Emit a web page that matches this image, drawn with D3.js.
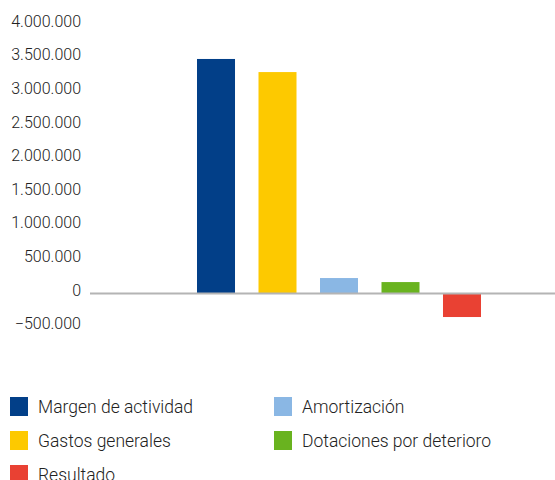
<!DOCTYPE html>
<html>
<head>
<meta charset="utf-8">
<script src="https://cdn.jsdelivr.net/npm/d3@7"></script>
<style>
  body { margin: 0; background: #fff; }
  text { font-family: Roboto, "Open Sans", sans-serif; }
</style>
</head>
<body>
<script>
const series = ["Margen de actividad", "Gastos generales", "Amortización", "Dotaciones por deterioro", "Resultado"];
const values = [3490000, 3295000, 230000, 170000, -350000];
const colors = ["#023f88", "#fdc900", "#8ab7e4", "#69b31f", "#e94133"];
const yTicks = [-500000, 0, 500000, 1000000, 1500000, 2000000, 2500000, 3000000, 3500000, 4000000];

const width = 555, height = 480;

const svg = d3.select("body").append("svg")
    .attr("width", width)
    .attr("height", height);

const y = d3.scaleLinear()
    .domain([-500000, 4000000])
    .range([327.1, 24.7]);

const x = d3.scaleBand()
    .domain(series)
    .range([197, 481])
    .paddingInner(0.382)
    .paddingOuter(0);

const fmt = d3.formatLocale({decimal: ",", thousands: ".", grouping: [3], currency: ["", "€"]}).format(",.0f");

// y labels, no axis line
const yAxis = svg.append("g")
    .attr("transform", "translate(81,-3.5)")
    .call(d3.axisLeft(y).tickValues(yTicks).tickFormat(fmt).tickSize(0).tickPadding(0));
yAxis.select(".domain").remove();
yAxis.selectAll("text")
    .attr("font-family", "Roboto, sans-serif")
    .attr("font-size", 16)
    .attr("font-weight", 300)
    .attr("fill", "#222");

svg.selectAll(".bar")
    .data(series)
    .enter()
    .append("rect")
    .attr("class", "bar")
    .attr("x", d => x(d))
    .attr("width", x.bandwidth())
    .attr("y", (d, i) => y(Math.max(0, values[i])))
    .attr("height", (d, i) => Math.abs(y(values[i]) - y(0)))
    .attr("fill", (d, i) => colors[i]);

// zero line
svg.append("line")
    .attr("x1", 90)
    .attr("x2", width)
    .attr("y1", y(0))
    .attr("y2", y(0))
    .attr("stroke", "#b4b4b4")
    .attr("stroke-width", 2);

// legend: left column Margen, Gastos, Resultado; right column Amortización, Dotaciones
const pos = {
    "Margen de actividad": [10, 397],
    "Gastos generales": [10, 431],
    "Resultado": [10, 465],
    "Amortización": [274, 397],
    "Dotaciones por deterioro": [274, 431]
};

const item = svg.append("g").selectAll(".item")
    .data(series)
    .enter()
    .append("g")
    .attr("class", "item")
    .attr("transform", d => `translate(${pos[d][0]},${pos[d][1]})`);

item.append("rect")
    .attr("width", 18)
    .attr("height", 19)
    .attr("fill", (d, i) => colors[i]);

item.append("text")
    .attr("x", 28)
    .attr("y", 9.5)
    .attr("dy", "0.35em")
    .attr("font-size", 17.5)
    .attr("font-weight", 300)
    .attr("fill", "#222")
    .text(d => d);
</script>
</body>
</html>
